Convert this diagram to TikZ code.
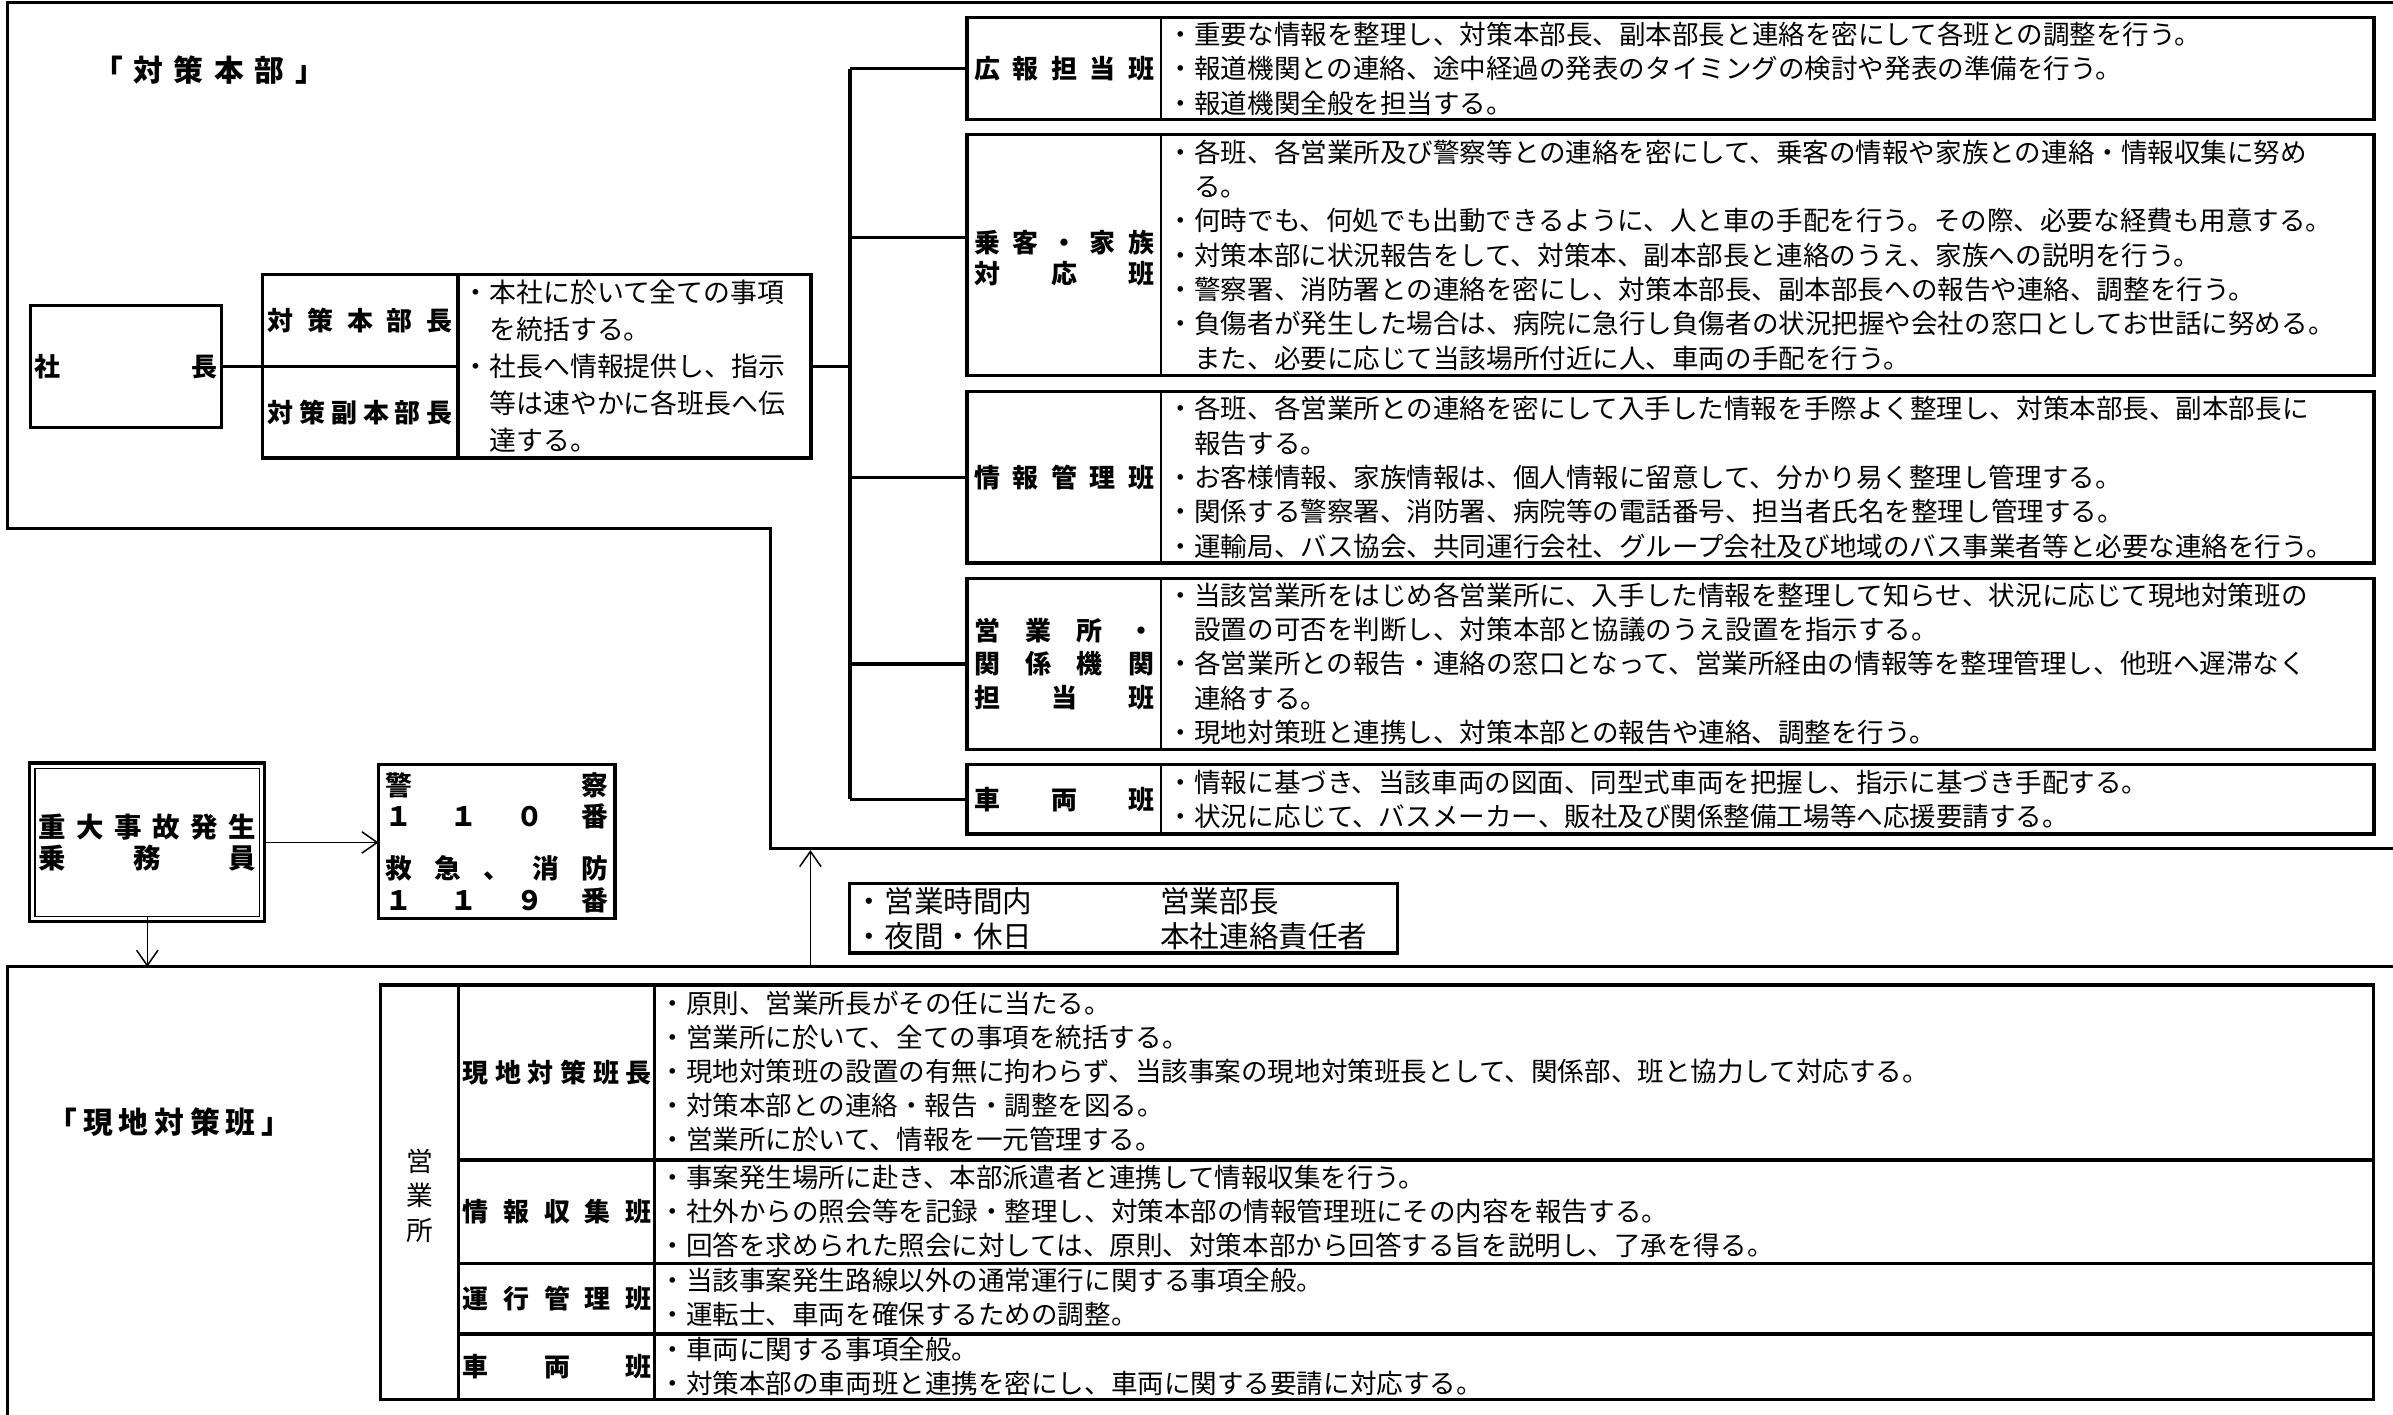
\documentclass[tikz,border=0pt]{standalone}
\usepackage{fontspec}
\setmainfont{Noto Sans CJK JP}
\usetikzlibrary{arrows.meta}
\newcommand{\myspread}[2]{\makebox[#1pt]{#2}}
\begin{document}
\begin{tikzpicture}[x=1pt,y=-1pt,
  thickbox/.style={draw, line width=2.2pt, inner sep=0pt, outer sep=0pt},
  thinbox/.style={draw, line width=1pt, inner sep=0pt, outer sep=0pt},
  midln/.style={line width=1.4pt},
  thickln/.style={line width=2.2pt},
  frameln/.style={line width=2pt},
  conn/.style={line width=2.2pt},
  txt/.style={inner sep=0pt, anchor=west, align=left, font=\fontsize{17.4}{22.5}\selectfont},
  lab/.style={inner sep=0pt, align=center, font=\bfseries\fontsize{17}{21}\selectfont},
  arr/.style={-{Straight Barb[length=10pt,width=14pt]}, line width=1pt},
]
\useasboundingbox (0,0) rectangle (1568,927);

% ---------- frames ----------
\draw[frameln] (1568,1.7) -- (5,1.7) -- (5,346) -- (505,346) -- (505,556) -- (1568,556);
\draw[frameln] (1568,633.5) -- (5,633.5) -- (5,927);

% ---------- titles ----------
\node[lab, font=\bfseries\fontsize{19.5}{19.5}\selectfont] (ttop) at (137,46) {\myspread{152}{「\hfill 対\hfill 策\hfill 本\hfill 部\hfill 」}};
\node[lab, font=\bfseries\fontsize{19.5}{19.5}\selectfont] (tbot) at (111,735) {\myspread{160}{「\hfill 現\hfill 地\hfill 対\hfill 策\hfill 班\hfill 」}};

% ---------- left HQ ----------
\node[thickbox, minimum width=125pt, minimum height=80pt] (pres) at (82.5,240) {};
\node[lab] (presl) at (pres.center) {\myspread{120}{社\hfill 長}};
\node[thickbox, minimum width=359.5pt, minimum height=120pt] (hq) at (351.75,240) {};
\draw[thickln] (300,180) -- (300,300);
\draw[thickln] (172,240) -- (300,240);
\node[lab] (hq1) at (236,210) {\myspread{121}{対\hfill 策\hfill 本\hfill 部\hfill 長}};
\node[lab] (hq2) at (236,270) {\myspread{121}{対\hfill 策\hfill 副\hfill 本\hfill 部\hfill 長}};
\node[txt, font=\fontsize{17.6}{24.3}\selectfont] (hqt) at (303,240) {・本社に於いて全ての事項\\　を統括する。\\・社長へ情報提供し、指示\\　等は速やかに各班長へ伝\\　達する。};
\draw[conn] (pres.east) -- (hq.west);

% ---------- right boxes ----------
\node[thickbox, minimum width=922pt, minimum height=67pt] (b1) at (1094.5,45) {};
\node[thickbox, minimum width=922pt, minimum height=158pt] (b2) at (1094.5,167) {};
\node[thickbox, minimum width=922pt, minimum height=112.5pt] (b3) at (1094.5,312.75) {};
\node[thickbox, minimum width=922pt, minimum height=112pt] (b4) at (1094.5,435) {};
\node[thickbox, minimum width=922pt, minimum height=45.5pt] (b5) at (1094.5,523.75) {};
\coordinate (dv) at (761,0);
\foreach \b in {b1,b2,b3,b4,b5}{\draw[midln] (\b.north -| dv) -- (\b.south -| dv);}

\node[lab] (l1) at (697.25,45) {\myspread{118}{広\hfill 報\hfill 担\hfill 当\hfill 班}};
\node[lab, font=\bfseries\fontsize{17}{20}\selectfont] (l2) at (697.25,169) {\myspread{118}{乗\hfill 客\hfill ・\hfill 家\hfill 族}\\\myspread{118}{対\hfill 応\hfill 班}};
\node[lab] (l3) at (697.25,312.75) {\myspread{118}{情\hfill 報\hfill 管\hfill 理\hfill 班}};
\node[lab, font=\bfseries\fontsize{17}{22}\selectfont] (l4) at (697.25,435) {\myspread{118}{営\hfill 業\hfill 所\hfill ・}\\\myspread{118}{関\hfill 係\hfill 機\hfill 関}\\\myspread{118}{担\hfill 当\hfill 班}};
\node[lab] (l5) at (697.25,523.75) {\myspread{118}{車\hfill 両\hfill 班}};

\node[txt] (c1) at (765,45) {・重要な情報を整理し、対策本部長、副本部長と連絡を密にして各班との調整を行う。\\・報道機関との連絡、途中経過の発表のタイミングの検討や発表の準備を行う。\\・報道機関全般を担当する。};
\node[txt] (c2) at (765,167) {・各班、各営業所及び警察等との連絡を密にして、乗客の情報や家族との連絡・情報収集に努め\\　る。\\・何時でも、何処でも出動できるように、人と車の手配を行う。その際、必要な経費も用意する。\\・対策本部に状況報告をして、対策本、副本部長と連絡のうえ、家族への説明を行う。\\・警察署、消防署との連絡を密にし、対策本部長、副本部長への報告や連絡、調整を行う。\\・負傷者が発生した場合は、病院に急行し負傷者の状況把握や会社の窓口としてお世話に努める。\\　また、必要に応じて当該場所付近に人、車両の手配を行う。};
\node[txt] (c3) at (765,312.75) {・各班、各営業所との連絡を密にして入手した情報を手際よく整理し、対策本部長、副本部長に\\　報告する。\\・お客様情報、家族情報は、個人情報に留意して、分かり易く整理し管理する。\\・関係する警察署、消防署、病院等の電話番号、担当者氏名を整理し管理する。\\・運輸局、バス協会、共同運行会社、グループ会社及び地域のバス事業者等と必要な連絡を行う。};
\node[txt] (c4) at (765,435) {・当該営業所をはじめ各営業所に、入手した情報を整理して知らせ、状況に応じて現地対策班の\\　設置の可否を判断し、対策本部と協議のうえ設置を指示する。\\・各営業所との報告・連絡の窓口となって、営業所経由の情報等を整理管理し、他班へ遅滞なく\\　連絡する。\\・現地対策班と連携し、対策本部との報告や連絡、調整を行う。};
\node[txt] (c5) at (765,523.75) {・情報に基づき、当該車両の図面、同型式車両を把握し、指示に基づき手配する。\\・状況に応じて、バスメーカー、販社及び関係整備工場等へ応援要請する。};

% ---------- trunk ----------
\coordinate (tk1) at (557,45);
\coordinate (tk2) at (557,155.5);
\coordinate (tk3) at (557,312.75);
\coordinate (tk4) at (557,435);
\coordinate (tk5) at (557,523.75);
\coordinate (tkm) at (557,240);
\draw[conn] (tk1) -- (tk5);
\draw[conn] (hq.east) -- (tkm);
\draw[conn] (tk1) -- (tk1 -| b1.west);
\draw[conn] (tk2) -- (tk2 -| b2.west);
\draw[conn] (tk3) -- (tk3 -| b3.west);
\draw[conn] (tk4) -- (tk4 -| b4.west);
\draw[conn] (tk5) -- (tk5 -| b5.west);

% ---------- middle ----------
\node[thickbox, minimum width=154pt, minimum height=104pt] (acc) at (96.5,552) {};
\node[thinbox, minimum width=147pt, minimum height=97pt] (acci) at (96.5,552) {};
\node[lab, font=\bfseries\fontsize{18}{20}\selectfont] (accl) at (96.5,552) {\myspread{143}{重\hfill 大\hfill 事\hfill 故\hfill 発\hfill 生}\\\myspread{143}{乗\hfill 務\hfill 員}};
\node[thickbox, minimum width=155pt, minimum height=101pt] (pol) at (325.5,551.5) {};
\node[lab, font=\bfseries\fontsize{17.5}{20.5}\selectfont] (pol1) at (325.5,524.5) {\myspread{146}{警\hfill 察}\\\myspread{146}{１\hfill １\hfill ０\hfill 番}};
\node[lab, font=\bfseries\fontsize{17.5}{20.5}\selectfont] (pol2) at (325.5,579.5) {\myspread{146}{救\hfill 急\hfill 、\hfill 消\hfill 防}\\\myspread{146}{１\hfill １\hfill ９\hfill 番}};
\draw[arr] (acc.east) -- (acc.east -| pol.west);
\coordinate (fb) at (0,633.5);
\draw[arr] (acci.south) -- (acci.south |- fb);
\coordinate (up0) at (531,633.5);
\coordinate (up1) at (531,557);
\draw[arr] (up0) -- (up1);

\node[thickbox, minimum width=359pt, minimum height=45.5pt] (hrs) at (736,601.75) {};
\node[txt, font=\fontsize{19.4}{23}\selectfont] (hrs1) at (560,602) {・営業時間内\\・夜間・休日};
\node[txt, font=\fontsize{19.4}{23}\selectfont] (hrs2) at (760,602) {営業部長\\本社連絡責任者};

% ---------- bottom table ----------
\node[thickbox, minimum width=1305.5pt, minimum height=271.5pt] (tab) at (902.25,781.25) {};
\draw[thickln] (300.5,645.5) -- (300.5,917);
\draw[thickln] (429,645.5) -- (429,917);
\draw[thickln] (300.5,760) -- (1555,760);
\draw[thickln] (300.5,828) -- (1555,828);
\draw[thickln] (300.5,874) -- (1555,874);
\node[inner sep=0pt, align=center, font=\fontsize{17.5}{22.5}\selectfont] (eig) at (275,783.5) {営\\業\\所};
\node[lab] (r1l) at (365,703) {\myspread{124}{現\hfill 地\hfill 対\hfill 策\hfill 班\hfill 長}};
\node[lab] (r2l) at (365,794) {\myspread{124}{情\hfill 報\hfill 収\hfill 集\hfill 班}};
\node[lab] (r3l) at (365,851) {\myspread{124}{運\hfill 行\hfill 管\hfill 理\hfill 班}};
\node[lab] (r4l) at (365,895.5) {\myspread{124}{車\hfill 両\hfill 班}};
\node[txt, font=\fontsize{17.4}{22.2}\selectfont] (r1) at (432,702) {・原則、営業所長がその任に当たる。\\・営業所に於いて、全ての事項を統括する。\\・現地対策班の設置の有無に拘わらず、当該事案の現地対策班長として、関係部、班と協力して対応する。\\・対策本部との連絡・報告・調整を図る。\\・営業所に於いて、情報を一元管理する。};
\node[txt, font=\fontsize{17.4}{22.2}\selectfont] (r2) at (432,794) {・事案発生場所に赴き、本部派遣者と連携して情報収集を行う。\\・社外からの照会等を記録・整理し、対策本部の情報管理班にその内容を報告する。\\・回答を求められた照会に対しては、原則、対策本部から回答する旨を説明し、了承を得る。};
\node[txt, font=\fontsize{17.4}{22.2}\selectfont] (r3) at (432,850) {・当該事案発生路線以外の通常運行に関する事項全般。\\・運転士、車両を確保するための調整。};
\node[txt, font=\fontsize{17.4}{22.2}\selectfont] (r4) at (432,895.5) {・車両に関する事項全般。\\・対策本部の車両班と連携を密にし、車両に関する要請に対応する。};
\end{tikzpicture}
\end{document}
